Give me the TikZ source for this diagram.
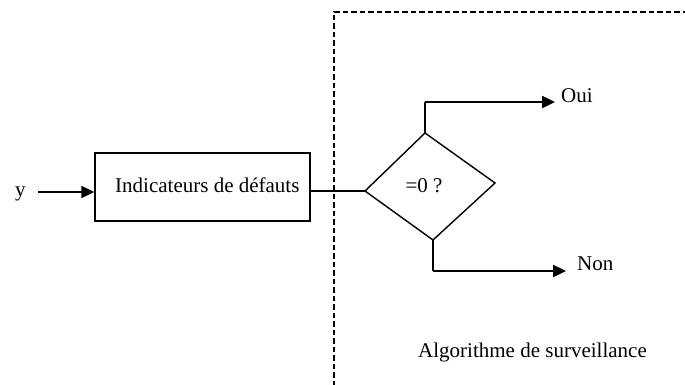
\documentclass[tikz,border=0pt]{standalone}
\usepackage{fontspec}
\setmainfont{Liberation Serif}
\usetikzlibrary{arrows.meta}
\begin{document}
\begin{tikzpicture}[x=1pt,y=-1pt,
  thinline/.style={line width=1.4pt},
  flow/.style={line width=2.4pt,-{Triangle[length=13pt,width=12pt]}},
  frame/.style={line width=2.5pt,dash pattern=on 5.5pt off 3pt},
  lbl/.style={font=\fontsize{21}{25}\selectfont,inner sep=0pt,anchor=base west},
  box/.style={draw,line width=1.5pt,minimum width=215pt,minimum height=68pt,inner sep=0pt}]
\useasboundingbox (0,0) rectangle (685,385);
% surveillance frame
\coordinate (fb) at (334,386);
\coordinate (ftl) at (334,12);
\coordinate (ftr) at (686,12);
\draw[frame] (fb) -- (ftl) -- (ftr);
% input
\node[lbl] (y) at (15,196) {y};
\node[box] (ind) at (202.5,187) {};
\node[lbl] (indt) at (115,192) {Indicateurs de défauts};
\coordinate (yin) at (38,192);
\draw[flow] (yin) -- (ind.west |- yin);
% decision diamond
\coordinate (dt) at (425,133);
\coordinate (dl) at (365,191);
\coordinate (dr) at (495,183);
\coordinate (db) at (433,240);
\draw[thinline,line join=miter] (dt) -- (dr) -- (db) -- (dl) -- cycle;
\node[lbl,anchor=base] (test) at (424,192) {=0 ?};
\draw[thinline] (ind.east |- dl) -- (dl);
% outputs
\node[lbl] (oui) at (561,103) {Oui};
\node[lbl] (non) at (577,270) {Non};
\coordinate (oc) at (425,102);
\coordinate (nc) at (433,271);
\draw[thinline] (dt) -- (oc);
\draw[flow,shorten >=6pt] (oc) -- (oc -| oui.west);
\draw[thinline] (db) -- (nc);
\draw[flow,shorten >=11pt] (nc) -- (nc -| non.west);
\node[lbl] (alg) at (418,357) {Algorithme de surveillance};
\end{tikzpicture}
\end{document}
